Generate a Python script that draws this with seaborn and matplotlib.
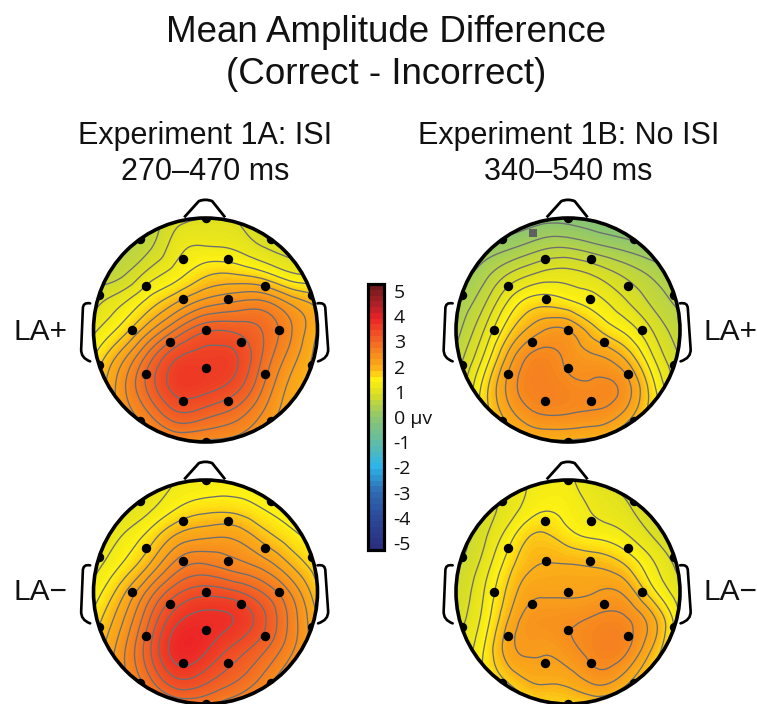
import numpy as np
import matplotlib
matplotlib.use("Agg")
import matplotlib.pyplot as plt
import matplotlib.tri as mtri
from matplotlib.colors import LinearSegmentedColormap, Normalize
from matplotlib.cm import ScalarMappable
from matplotlib.patches import Circle, PathPatch
from matplotlib.path import Path
import pandas as pd
import seaborn as sns

W, H = 757, 704
title_lines = ["Mean Amplitude Difference", "(Correct - Incorrect)"]
col_titles = ["Experiment 1A: ISI\n270–470 ms", "Experiment 1B: No ISI\n340–540 ms"]
grid_axis = [-1.0, -0.75, -0.5, -0.25, 0.0, 0.25, 0.5, 0.75, 1.0]

# rows run front (top of the head) to back
exp1a_la_plus = [
    [.2, .3, .6, .9, 1.0, 1.0, .85, .7, .6],
    [.3, .5, .7, 1.15, 1.25, 1.2, 1.0, .9, .8],
    [.6, .7, 1.1, 1.4, 1.7, 1.75, 1.6, 1.3, 1.2],
    [.9, 1.2, 1.6, 2.0, 2.35, 2.5, 2.55, 2.2, 1.9],
    [1.2, 1.6, 2.2, 2.8, 3.2, 3.2, 3.0, 2.55, 2.0],
    [1.5, 2.15, 2.9, 3.5, 3.6, 3.55, 3.0, 2.4, 1.9],
    [1.7, 2.4, 3.1, 3.62, 3.6, 3.4, 2.8, 2.2, 1.9],
    [1.7, 2.3, 2.75, 3.2, 3.1, 2.9, 2.5, 2.1, 1.8],
    [1.7, 2.1, 2.3, 2.45, 2.45, 2.4, 2.2, 2.0, 1.8],
]
exp1b_la_plus = [
    [-.3, -.25, -.2, -.1, -.1, -.2, -.3, -.35, -.3],
    [-.1, .05, .2, .4, .45, .3, .15, .0, 0],
    [.1, .4, .8, 1.05, 1.1, .95, .7, .45, .3],
    [.3, .7, 1.35, 1.65, 1.55, 1.35, 1.05, .7, .45],
    [.4, 1.0, 1.75, 2.2, 2.25, 1.8, 1.45, 1.0, .6],
    [.6, 1.3, 2.2, 2.6, 2.45, 2.3, 2.0, 1.3, .75],
    [.7, 1.6, 2.4, 2.68, 2.58, 2.55, 2.4, 1.6, .9],
    [.8, 1.6, 2.2, 2.5, 2.5, 2.45, 2.2, 1.6, 1.1],
    [.9, 1.5, 1.8, 1.95, 1.95, 1.9, 1.7, 1.4, 1.2],
]
exp1a_la_minus = [
    [.9, 1.0, 1.1, 1.25, 1.3, 1.4, 1.4, 1.3, 1.2],
    [.9, 1.0, 1.2, 1.5, 1.65, 1.65, 1.5, 1.35, 1.25],
    [1.0, 1.25, 1.6, 2.05, 2.2, 2.2, 1.9, 1.6, 1.4],
    [1.15, 1.5, 2.0, 2.6, 2.75, 2.6, 2.4, 2.0, 1.6],
    [1.35, 1.9, 2.6, 3.2, 3.4, 3.3, 3.0, 2.5, 1.8],
    [1.6, 2.2, 3.0, 3.7, 3.85, 3.75, 3.35, 2.7, 2.0],
    [1.8, 2.4, 3.2, 3.9, 3.8, 3.45, 3.1, 2.6, 2.0],
    [1.9, 2.4, 3.0, 3.55, 3.4, 3.1, 2.75, 2.3, 1.9],
    [1.9, 2.2, 2.5, 2.8, 2.8, 2.6, 2.35, 2.0, 1.8],
]
exp1b_la_minus = [
    [1.0, 1.1, 1.2, 1.3, 1.3, 1.05, .95, .8, .7],
    [.7, .9, 1.15, 1.45, 1.4, 1.2, 1.05, .85, .7],
    [.6, .95, 1.45, 1.8, 1.6, 1.45, 1.3, 1.0, .75],
    [.7, 1.1, 1.7, 2.0, 2.0, 1.95, 1.75, 1.3, .9],
    [.8, 1.25, 1.9, 2.2, 2.2, 2.25, 2.2, 1.6, 1.1],
    [.9, 1.35, 2.1, 2.4, 2.45, 2.55, 2.55, 2.1, 1.25],
    [1.0, 1.5, 2.2, 2.3, 2.42, 2.62, 2.58, 2.0, 1.3],
    [1.1, 1.5, 1.9, 2.1, 2.15, 2.4, 2.2, 1.7, 1.3],
    [1.2, 1.4, 1.55, 1.7, 1.75, 1.8, 1.7, 1.5, 1.3],
]

electrode_x = [-.205, .205, -.535, .535, -.2, .2, -.66, .66, 0, -.32, .32, 0, -.535, .535, -.205, .205,
               0, 0, -.95, .95, -.95, .95, -.585, .585, -.585, .585]
electrode_y = [.635, .635, .393, .393, .277, .277, 0, 0, 0, -.105, -.105, -.34, -.393, -.393, -.635, -.635,
               1.0, -1.0, .312, .312, -.312, -.312, .811, .811, -.811, -.811]

bar_ticks = [5, 4, 3, 2, 1, 0, -1, -2, -3, -4, -5]
bar_labels = ["5", "4", "3", "2", "1", "0 µv", "-1", "-2", "-3", "-4", "-5"]
bar_limit = 5.28
anchor_values = [-5.28, -4, -3, -2, -1, 0, 1, 1.5, 2, 3, 4, 4.5, 5.28]
anchor_colors = ["#2a2f7f", "#2b4a9b", "#2f6db3", "#2db5e8", "#62bcA4", "#8dc66e", "#dfe01f", "#fff212",
                 "#fbb017", "#f26b24", "#ec2226", "#b5212a", "#6f1a1c"]
contour_levels = [x / 4 for x in range(-20, 21)]
fill_levels = [x / 20 for x in range(-106, 107)]

sns.set_theme(style="white", rc={"axes.grid": False})
plt.rcParams["font.family"] = ["Liberation Sans", "DejaVu Sans"]

pos = [(v + bar_limit) / (2 * bar_limit) for v in anchor_values]
cmap = LinearSegmentedColormap.from_list("erp", list(zip(pos, anchor_colors)), N=46)
fine_cmap = LinearSegmentedColormap.from_list("erp_fine", list(zip(pos, anchor_colors)), N=512)
norm = Normalize(-bar_limit, bar_limit)

fig = plt.figure(figsize=(W / 100, H / 100), dpi=100, facecolor="white")


def px_axes(x0, y0, x1, y1):
    return fig.add_axes([x0 / W, 1 - y1 / H, (x1 - x0) / W, (y1 - y0) / H])


gx, gy = np.meshgrid(grid_axis, grid_axis)
tri = mtri.Triangulation(gx.ravel(), -gy.ravel())
refiner = mtri.UniformTriRefiner(tri)
R = 112
BOX = 1.35
df_elec = pd.DataFrame({"x": electrode_x, "y": electrode_y})


def ear_path(points):
    codes = [Path.MOVETO, Path.CURVE3, Path.CURVE3, Path.LINETO, Path.CURVE3, Path.CURVE3]
    return PathPatch(Path(points, codes), fill=False, lw=1.9, ec="black", clip_on=False, capstyle="round")


def head(cx, cy, values, marker=False):
    ax = px_axes(cx - BOX * R, cy - BOX * R, cx + BOX * R, cy + BOX * R)
    ax.set_xlim(-BOX, BOX)
    ax.set_ylim(-BOX, BOX)
    ax.axis("off")
    ax.patch.set_alpha(0)
    z = np.asarray(values, float).ravel()
    tr, zr = refiner.refine_field(z, subdiv=3)
    clip = Circle((0, 0), 1.0, transform=ax.transData)
    cf = ax.tricontourf(tr, zr, levels=fill_levels, cmap=fine_cmap, norm=norm, extend="both")
    cf.set_clip_path(clip)
    cs = ax.tricontour(tr, zr, levels=contour_levels, colors="#6d6e71", linewidths=0.95)
    cs.set_clip_path(clip)
    sc = sns.scatterplot(data=df_elec, x="x", y="y", ax=ax, color="black", s=46, linewidth=0, zorder=4, legend=False)
    sc.collections[-1].set_clip_path(clip)
    if marker:
        sns.scatterplot(x=[-.31], y=[.862], ax=ax, color="#5f6062", marker="s", s=26, linewidth=0, zorder=4, legend=False)
    ax.set_xlabel("")
    ax.set_ylabel("")
    ax.add_patch(Circle((0, 0), 1.0, fill=False, ec="black", lw=2.6, zorder=6, clip_on=False))
    nose = Path([(-.19, 1.006), (-.06, 1.15), (0, 1.175), (.06, 1.15), (.175, 1.006)],
                [Path.MOVETO, Path.LINETO, Path.CURVE3, Path.CURVE3, Path.LINETO])
    ax.add_patch(PathPatch(nose, fill=False, lw=2.0, ec="black", zorder=5, clip_on=False, joinstyle="round"))
    ax.add_patch(ear_path([(-1.03, .238), (-1.095, .25), (-1.095, .19), (-1.11, -.17), (-1.115, -.25), (-1.03, -.28)]))
    ax.add_patch(ear_path([(1.0, .238), (1.07, .25), (1.07, .19), (1.095, -.17), (1.1, -.25), (1.005, -.28)]))
    return ax


head(205.5, 330, exp1a_la_plus)
head(568, 330, exp1b_la_plus, marker=True)
head(205.5, 592, exp1a_la_minus)
head(568, 592, exp1b_la_minus)


def txt(x, y, s, size, ha="center", family=None):
    fig.text(x / W, 1 - y / H, s, ha=ha, va="center", fontsize=size, color="#111111",
             family=family or ["Liberation Sans", "DejaVu Sans"], linespacing=1.1)


txt(386, 32, title_lines[0], 26.5)
txt(386, 75, title_lines[1], 26.5)
txt(205.5, 136, col_titles[0].split("\n")[0], 22)
txt(205.5, 172, col_titles[0].split("\n")[1], 22)
txt(568.5, 136, col_titles[1].split("\n")[0], 22)
txt(568.5, 172, col_titles[1].split("\n")[1], 22)
txt(14, 332, "LA+", 21.5, ha="left")
txt(703, 332, "LA+", 21.5, ha="left")
txt(14, 592, "LA−", 21.5, ha="left")
txt(703, 592, "LA−", 21.5, ha="left")

cax = px_axes(368, 284, 384, 550)
cb = fig.colorbar(ScalarMappable(norm=norm, cmap=cmap), cax=cax, orientation="vertical")
cb.set_ticks(bar_ticks)
cb.set_ticklabels(bar_labels)
cb.outline.set_linewidth(2.3)
cb.outline.set_edgecolor("black")
cb.ax.tick_params(axis="y", direction="in", length=4, width=1.8, color="black", pad=7, labelsize=14, right=True)
for t in cb.ax.get_yticklabels():
    t.set_family(["Open Sans", "DejaVu Sans"])
    t.set_color("#111111")

fig.savefig("out.png", dpi=100, facecolor="white")
